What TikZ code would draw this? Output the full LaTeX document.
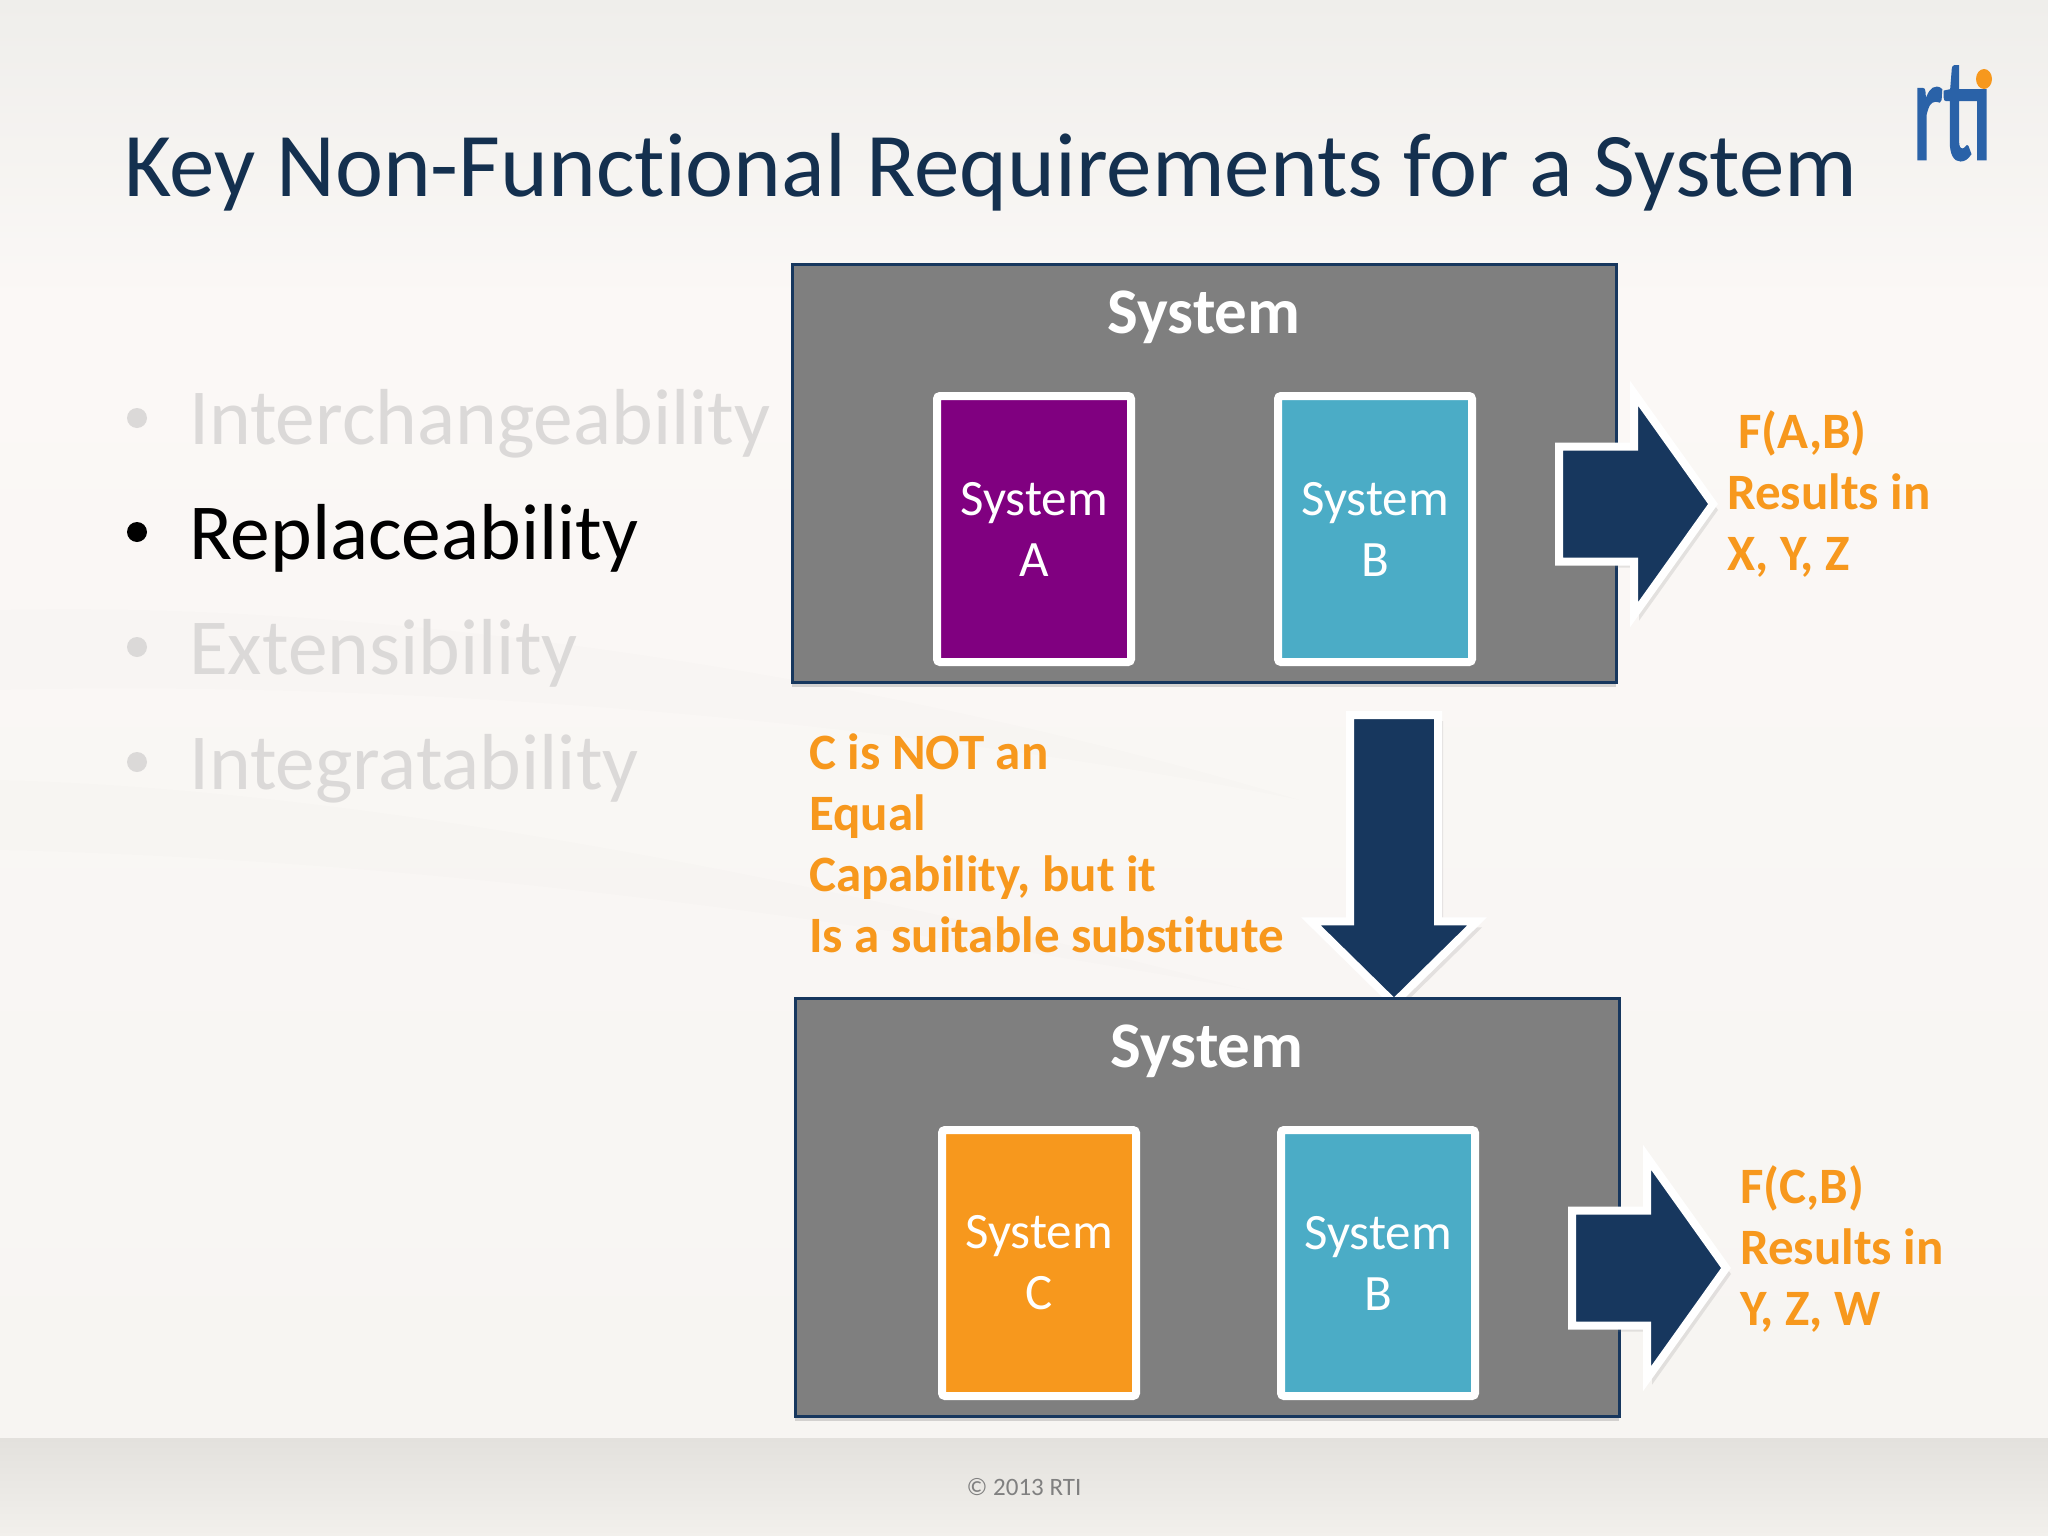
\documentclass[tikz,border=0pt]{standalone}
\usepackage{fontspec}
\setmainfont{Carlito}[Ligatures=NoCommon]
\newfontfamily\logofont[FakeBold=2]{Carlito}
\usetikzlibrary{positioning}
\usetikzlibrary{shapes.arrows}
\usetikzlibrary{shapes.geometric}
\usetikzlibrary{shadows}
\definecolor{navy}{HTML}{17375E}
\definecolor{titlenavy}{HTML}{14304F}
\definecolor{panelgray}{HTML}{7F7F7F}
\definecolor{sysorange}{HTML}{F7981D}
\definecolor{syspurple}{HTML}{800080}
\definecolor{sysblue}{HTML}{4BACC6}
\definecolor{dimgray}{HTML}{DBD9D8}
\definecolor{logoblue}{HTML}{2A62A8}
\definecolor{bgtop}{HTML}{EFEEEB}
\definecolor{bgmid}{HTML}{FBF8F6}
\definecolor{bgbot}{HTML}{F7F5F2}
\definecolor{bandtop}{HTML}{E3E1DD}
\definecolor{bandbot}{HTML}{F2F0EC}
\tikzset{
    panel/.style = {draw = navy, line width = 3, fill = panelgray, minimum width = 824, minimum height = 418, inner sep = 0,
        drop shadow = {shadow xshift = 0, shadow yshift = 5, opacity = 0.3}},
    paneltitle/.style = {text = white, font = \fontsize{65}{65}\selectfont\bfseries},
    sysbox/.style = {draw = white, line width = 8, rounded corners = 3, minimum width = 194, minimum height = 266, inner sep = 0,
        text = white, align = center, font = \fontsize{51}{61}\selectfont,
        drop shadow = {shadow xshift = 0, shadow yshift = 7, opacity = 0.4}},
    blockarrow/.style = {single arrow, draw = white, line width = 8, fill = navy, inner xsep = 0, outer sep = 0, anchor = tail,
        drop shadow = {shadow xshift = 5, shadow yshift = 6, opacity = 0.18}},
    resultarrow/.style = {blockarrow, minimum height = 154, inner ysep = 53.5, single arrow head extend = 53, single arrow tip angle = 109},
    note/.style = {text = sysorange, anchor = north west, align = left, inner sep = 0, font = \fontsize{51}{61}\selectfont\bfseries},
    bullettext/.style = {anchor = base west, inner sep = 0, font = \fontsize{79.4}{80}\selectfont},
    bulletdot/.style = {circle, minimum size = 20, inner sep = 0},
    streak/.style = {black, opacity = 0.008},
}

\begin{document}
\begin{tikzpicture}[x = 1pt, y = -1pt]
    \useasboundingbox (0,0) rectangle (2048,1536);
    % background %
    \fill[top color = bgmid, bottom color = bgbot] (0,300) rectangle (2048,1438);
    \fill[top color = bgtop, bottom color = bgmid] (0,0) rectangle (2048,300);
    \fill[top color = bandtop, bottom color = bandbot] (0,1438) rectangle (2048,1536);
    \fill[streak] (0,610) .. controls (400,600) and (900,680) .. (1300,800) .. controls (900,720) and (400,680) .. (0,690) -- cycle;
    \fill[streak] (0,780) .. controls (400,790) and (900,900) .. (1250,990) .. controls (800,910) and (400,860) .. (0,850) -- cycle;
    % heading %
    \node[anchor = base west, inner sep = 0, text = titlenavy, font = \fontsize{91}{91}\selectfont] (heading) at (124,196) {Key Non-Functional Requirements for a System};
    \node[text = logoblue, inner sep = 0, xscale = 0.6, anchor = base east, font = \fontsize{146}{146}\logofont] (logo) at (1992,159) {rtı};
    \node[ellipse, fill = sysorange, minimum width = 16, minimum height = 20, inner sep = 0] (logodot) at (1984,79) {};
    % bullets %
    \node[bullettext, text = dimgray] (interchange) at (189,444) {Interchangeability};
    \node[bullettext, text = black] (replace) at (189,559) {Replaceability};
    \node[bullettext, text = dimgray] (extend) at (189,674) {Extensibility};
    \node[bullettext, text = dimgray] (integrate) at (189,789) {Integratability};
    \node[bulletdot, fill = dimgray] (dotone) at (137,418) {};
    \node[bulletdot, fill = black] (dottwo) at (137,532) {};
    \node[bulletdot, fill = dimgray] (dotthree) at (137,647) {};
    \node[bulletdot, fill = dimgray] (dotfour) at (137,762) {};
    % arrow between systems %
    \node[blockarrow, rotate = -90, minimum height = 288, inner ysep = 40, single arrow head extend = 39, single arrow tip angle = 91] (swap) at (1394,715) {};
    % top system %
    \node[panel] (topsys) at (1204,473) {};
    \node[paneltitle] (toptitle) at (1204,317) {System};
    \node[sysbox, fill = syspurple] (sysa) at (1034,529) {System\\A};
    \node[sysbox, fill = sysblue] (sysb) at (1375,529) {System\\B};
    % bottom system %
    \node[panel] (botsys) at (1207,1207) {};
    \node[paneltitle] (bottitle) at (1207,1051) {System};
    \node[sysbox, fill = sysorange] (sysc) at (1039,1263) {System\\C};
    \node[sysbox, fill = sysblue] (sysbb) at (1378,1263) {System\\B};
    % result arrows %
    \node[resultarrow] (topresult) at (1559,504) {};
    \node[resultarrow] (botresult) at (1572,1268) {};
    % notes %
    \node[note] (topnote) at (1727,410) {\hspace*{11pt}F(A,B)\\Results in\\X, Y, Z};
    \node[note] (botnote) at (1740,1165) {F(C,B)\\Results in\\Y, Z, W};
    \node[note] (midnote) at (809,734) {C is NOT an\\Equal\\Capability, but it\\Is a suitable substitute};
    % footer %
    \node[text = black!50, font = \fontsize{25}{25}\selectfont] (copyright) at (1024,1487) {© 2013 RTI};
\end{tikzpicture}
\end{document}
